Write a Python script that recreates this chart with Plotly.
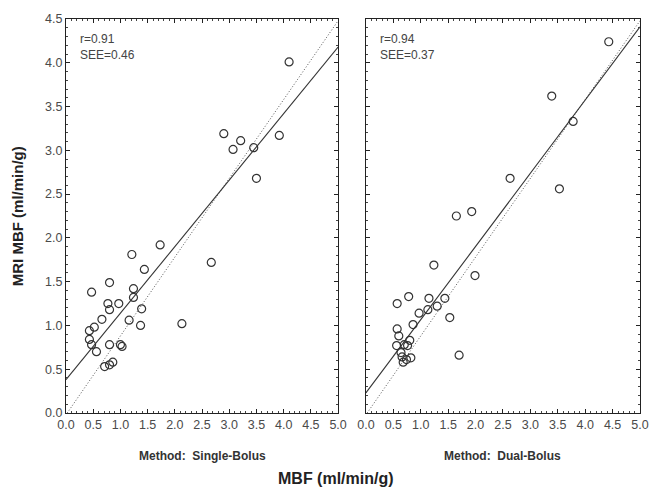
import plotly.graph_objects as go
from plotly.subplots import make_subplots

# Single-bolus panel data (x: MBF reference, y: MRI MBF)
single_x = [4.10, 2.90, 3.07, 3.21, 3.45, 3.50, 3.92, 1.73, 2.67, 2.13, 1.21, 1.44,
            0.80, 0.47, 1.24, 1.24, 0.77, 0.80, 0.97, 0.66, 1.16, 1.39, 1.37, 0.52,
            0.43, 0.43, 0.47, 0.56, 0.80, 1.00, 1.03, 0.71, 0.80, 0.86]
single_y = [4.01, 3.19, 3.01, 3.11, 3.03, 2.68, 3.17, 1.92, 1.72, 1.02, 1.81, 1.64,
            1.49, 1.38, 1.42, 1.32, 1.25, 1.18, 1.25, 1.07, 1.06, 1.19, 1.00, 0.98,
            0.94, 0.84, 0.78, 0.70, 0.78, 0.78, 0.76, 0.53, 0.55, 0.58]

# Dual-bolus panel data
dual_x = [4.43, 3.39, 3.78, 2.63, 3.53, 1.65, 1.93, 1.24, 1.99, 0.57, 0.78, 1.15,
          1.44, 0.97, 1.13, 1.30, 1.53, 0.86, 1.70, 0.57, 0.60, 0.80, 0.56, 0.76,
          0.64, 0.66, 0.82, 0.68, 0.74, 0.70]
dual_y = [4.24, 3.62, 3.33, 2.68, 2.56, 2.25, 2.30, 1.69, 1.57, 1.25, 1.33, 1.31,
          1.31, 1.14, 1.18, 1.22, 1.09, 1.01, 0.66, 0.96, 0.88, 0.83, 0.77, 0.77,
          0.69, 0.64, 0.63, 0.58, 0.61, 0.78]

# Regression fits (intercept, slope) and dotted reference line
single_fit = (0.38, 0.76)
dual_fit = (0.23, 0.836)
ref_line = (-0.02, 0.9)
line_x = [0.0, 5.0]

stats = [("r=0.91", "SEE=0.46"), ("r=0.94", "SEE=0.37")]
methods = ["Method:  Single-Bolus", "Method:  Dual-Bolus"]
tick_vals = [0.0, 0.5, 1.0, 1.5, 2.0, 2.5, 3.0, 3.5, 4.0, 4.5, 5.0]

fig = make_subplots(rows=1, cols=2, horizontal_spacing=0.0)

panels = [(single_x, single_y, single_fit), (dual_x, dual_y, dual_fit)]
for i, (px, py, fit) in enumerate(panels, start=1):
    fy = [fit[0] + fit[1] * v for v in line_x]
    rx = [-ref_line[0] / ref_line[1], 5.0]
    ry = [ref_line[0] + ref_line[1] * v for v in rx]
    fig.add_trace(go.Scatter(x=rx, y=ry, mode="lines",
                             line=dict(color="#555555", width=1, dash="1px,2px"),
                             showlegend=False, hoverinfo="skip"), row=1, col=i)
    fig.add_trace(go.Scatter(x=line_x, y=fy, mode="lines",
                             line=dict(color="#333333", width=1.1),
                             showlegend=False, hoverinfo="skip"), row=1, col=i)
    fig.add_trace(go.Scatter(x=px, y=py, mode="markers",
                             marker=dict(symbol="circle-open", size=8,
                                         color="#333333", line=dict(width=1.2)),
                             showlegend=False), row=1, col=i)

axis_common = dict(
    showgrid=False, zeroline=False, showline=True, linecolor="#222222", linewidth=1,
    mirror="ticks", ticks="inside", ticklen=4, tickcolor="#222222",
    minor=dict(ticks="inside", ticklen=2, tickcolor="#444444", dtick=0.1),
    tickfont=dict(family="Liberation Sans, Arial, sans-serif", size=12.5, color="#4a4a4a"),
    tickformat=".1f",
)

fig.update_xaxes(**axis_common, range=[0, 5], tickvals=tick_vals)
fig.update_yaxes(**axis_common, range=[0, 4.5], tickvals=tick_vals[:-1])
fig.update_yaxes(showticklabels=False, row=1, col=2)

fig.update_layout(
    width=661, height=488,
    margin=dict(l=66, r=17, t=17, b=75),
    plot_bgcolor="white", paper_bgcolor="white",
    xaxis=dict(domain=[0.0, 0.474]),
    xaxis2=dict(domain=[0.5225, 1.0]),
)

font_main = "Liberation Sans, Arial, sans-serif"
annots = []
for i, (a, b) in enumerate(stats):
    xref = "x domain" if i == 0 else "x2 domain"
    yref = "y domain" if i == 0 else "y2 domain"
    annots.append(dict(x=0.045, y=0.972, xref=xref, yref=yref, text=a + "<br>" + b,
                       showarrow=False, xanchor="left", yanchor="top", align="left",
                       font=dict(family=font_main, size=12, color="#444444")))
    annots.append(dict(x=0.5, y=-0.11, xref=xref, yref="paper", text="<b>" + methods[i] + "</b>",
                       showarrow=False, xanchor="center", yanchor="middle",
                       font=dict(family=font_main, size=12, color="#333333")))
annots.append(dict(x=0.47, y=-0.165, xref="paper", yref="paper", text="<b>MBF (ml/min/g)</b>",
                   showarrow=False, xanchor="center", yanchor="middle",
                   font=dict(family=font_main, size=16, color="#222222")))
annots.append(dict(x=-0.085, y=0.5, xref="paper", yref="paper", text="<b>MRI MBF (ml/min/g)</b>",
                   showarrow=False, xanchor="center", yanchor="middle", textangle=-90,
                   font=dict(family=font_main, size=15, color="#222222")))
fig.update_layout(annotations=annots)

fig.write_html("out.html", config={"displayModeBar": False},
               post_script="document.body.style.margin='0px';")
